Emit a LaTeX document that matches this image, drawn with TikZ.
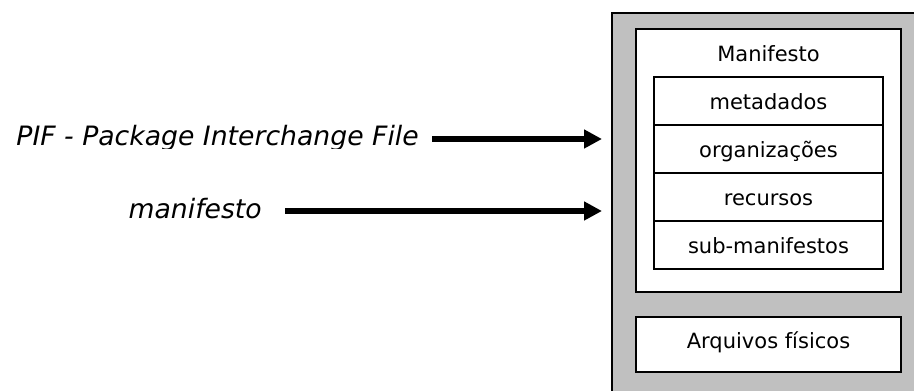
\documentclass[tikz,border=0pt]{standalone}
\usepackage{fontspec}
\setmainfont{DejaVu Sans}
\usetikzlibrary{arrows.meta}
\definecolor{panelgray}{RGB}{192,192,192}
\tikzset{
  frame/.style={draw=black, line width=1.4pt},
  boxlabel/.style={font=\fontsize{15.75}{18}\selectfont, anchor=base, inner sep=0pt},
  sidelabel/.style={font=\fontsize{20}{24}\selectfont\itshape, anchor=base east, inner sep=0pt},
  bigarrow/.style={-{Triangle[length=13.5pt,width=13.5pt]}, line width=4.3pt},
}
\begin{document}
\begin{tikzpicture}[x=0.75pt,y=-0.75pt]
\useasboundingbox (0,0) rectangle (914,391);
\clip (0,0) rectangle (914,391);

% package (grey panel, running off the page)
\draw[frame, fill=panelgray] (612,13) rectangle (940,420);

% manifest block
\draw[frame, fill=white] (636,29) rectangle (901,292);
\node[boxlabel] (mantitle) at (768.5,61.5) {Manifesto};
\draw[frame, fill=white] (654,77) rectangle (883,269);
\draw[frame] (654,125) -- (883,125);
\draw[frame] (654,173) -- (883,173);
\draw[frame] (654,221) -- (883,221);
\node[boxlabel] (meta) at (768.5,110) {metadados};
\node[boxlabel] (orgs) at (768.5,158) {organizações};
\node[boxlabel] (res)  at (768.5,206) {recursos};
\node[boxlabel] (subm) at (768.5,254) {sub-manifestos};

% physical files block
\draw[frame, fill=white] (636,317) rectangle (901,372);
\node[boxlabel] (files) at (768.5,349) {Arquivos físicos};

% left-hand labels (the first line is cut just below its baseline)
\begin{scope}
  \clip (0,100) rectangle (600,148.5);
  \node[sidelabel] (pif) at (419,146) {PIF - Package Interchange File};
\end{scope}
\node[sidelabel] (man) at (262,219) {manifesto};

% arrows into the package
\coordinate (tipA) at (602,139);
\coordinate (tipB) at (602,211);
\draw[bigarrow] (pif.base east) ++(13,-7) -- (tipA);
\draw[bigarrow] (man.base east) ++(23,-8) -- (tipB);
\end{tikzpicture}
\end{document}
